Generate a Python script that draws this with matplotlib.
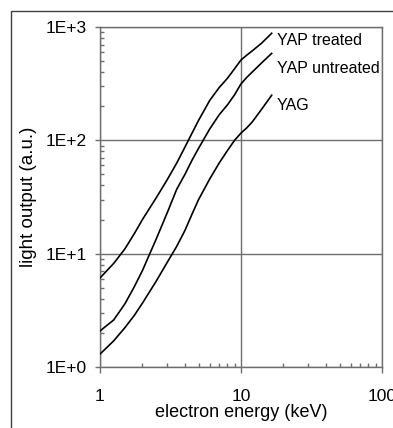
import matplotlib
matplotlib.use('Agg')
import matplotlib.pyplot as plt
from matplotlib.ticker import LogLocator, FixedLocator, NullFormatter
from matplotlib.patches import Rectangle

plt.rcParams['font.family'] = ['Liberation Sans', 'DejaVu Sans']

# electron energy (keV)
energy = [1, 1.25, 1.5, 1.75, 2, 2.5, 3, 3.5, 4, 4.5, 5, 6, 7, 8, 9, 10, 11, 12, 14, 16.5]

# light output (a.u.)
yap_treated = [6.1, 8.2, 11.0, 15.0, 20.0, 31, 45, 63, 87, 116, 150, 225, 292, 352, 428, 512,
               565, 615, 720, 880]
yap_untreated = [2.08, 2.6, 3.6, 5.1, 7.1, 13.4, 23, 37, 50, 67, 85, 126, 168, 205, 252, 315,
                 360, 400, 482, 585]
yag = [1.30, 1.70, 2.22, 2.85, 3.66, 5.7, 8.4, 11.6, 16.0, 22.4, 30, 45.6, 63, 81, 100, 116,
       129, 145, 188, 250]

series = [yap_treated, yap_untreated, yag]
names = ['YAP treated', 'YAP untreated', 'YAG']
label_x = [18.0, 18.0, 18.0]
label_y = [754, 427, 201]

fig = plt.figure(figsize=(3.93, 4.28), dpi=100)
ax = fig.add_axes([100 / 393, 61 / 428, 282 / 393, 340 / 428])

# clipped outer chart border
fig.add_artist(Rectangle((10.5 / 393, -0.5), 2, 0.5 + (428 - 11) / 428,
                         transform=fig.transFigure, fill=False,
                         edgecolor='#404040', lw=1, clip_on=False))

for ys in series:
    ax.plot(energy, ys, color='black', lw=1.2, zorder=3)

for name, lx, ly in zip(names, label_x, label_y):
    ax.text(lx, ly, name, fontsize=11.5, ha='left', va='center')

ax.set_xscale('log')
ax.set_yscale('log')
ax.set_xlim(1, 100)
ax.set_ylim(1, 1000)

ax.xaxis.set_major_locator(FixedLocator([1, 10, 100]))
ax.yaxis.set_major_locator(FixedLocator([1, 10, 100, 1000]))
ax.set_xticklabels(['1', '10', '100'])
ax.set_yticklabels(['1E+0', '1E+1', '1E+2', '1E+3'])
ax.xaxis.set_minor_locator(LogLocator(base=10, subs=range(2, 10)))
ax.yaxis.set_minor_locator(LogLocator(base=10, subs=range(2, 10)))
ax.xaxis.set_minor_formatter(NullFormatter())
ax.yaxis.set_minor_formatter(NullFormatter())

gcol = '#6e6e6e'
ax.grid(True, which='major', color=gcol, lw=1)
for s in ax.spines.values():
    s.set_color(gcol)
    s.set_linewidth(1)

ax.tick_params(axis='x', which='major', direction='out', length=4.5, width=1,
               color=gcol, labelsize=12.5, pad=11)
ax.tick_params(axis='y', which='major', direction='out', length=3.6, width=1,
               color=gcol, labelsize=12.5, pad=6)
ax.tick_params(which='minor', direction='in', length=2.8, width=1, color=gcol)

ax.set_xlabel('electron energy (keV)', fontsize=13, labelpad=0)
ax.set_ylabel('light output (a.u.)', fontsize=13.5, labelpad=6)

fig.savefig('out.png', dpi=100)
